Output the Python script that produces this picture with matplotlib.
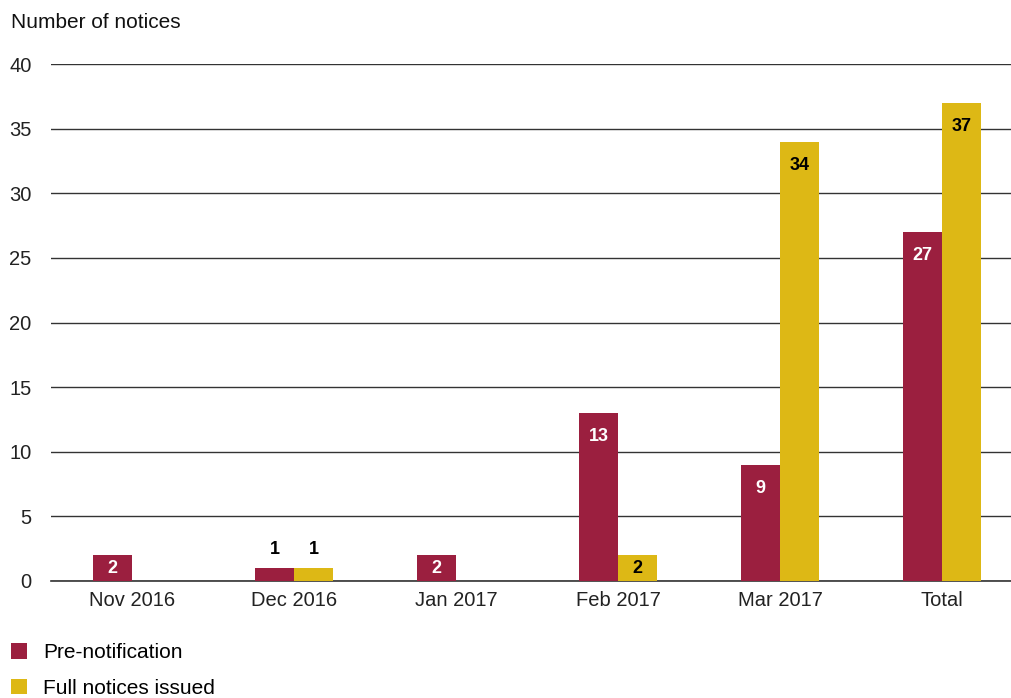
import numpy as np
import matplotlib.pyplot as plt

plt.rcParams['font.family'] = ['Liberation Sans', 'DejaVu Sans']

# data
categories = ['Nov 2016', 'Dec 2016', 'Jan 2017', 'Feb 2017', 'Mar 2017', 'Total']
pre_notification = [2, 1, 2, 13, 9, 27]
full_notices = [0, 1, 0, 2, 34, 37]
yticks = [0, 5, 10, 15, 20, 25, 30, 35, 40]

c_pre = '#9b1f3f'
c_full = '#ddb815'

fig = plt.figure(figsize=(10.11, 6.98), dpi=100)
ax = fig.add_axes([51/1011, 1 - 581/698, 960/1011, (581 - 64)/698])

x = np.arange(len(categories))
w = 0.24
b1 = ax.bar(x - w/2, pre_notification, w, color=c_pre, label='Pre-notification', zorder=3)
b2 = ax.bar(x + w/2, full_notices, w, color=c_full, label='Full notices issued', zorder=3)

# value labels
def etiquetas(barras, valores, cor_dentro):
    for r, v in zip(barras, valores):
        if v == 0:
            continue
        cx = r.get_x() + r.get_width() / 2
        if v < 2:
            ax.text(cx, v + 1.4, str(v), ha='center', va='center',
                    color='black', fontsize=13, fontweight='bold', zorder=4)
        else:
            y = max(v / 2, v - 1.85)
            ax.text(cx, y, str(v), ha='center', va='center',
                    color=cor_dentro, fontsize=13, fontweight='bold', zorder=4)

etiquetas(b1, pre_notification, 'white')
etiquetas(b2, full_notices, 'black')

ax.set_xlim(-0.5, -0.5 + 960/162)
ax.set_ylim(0, 40)
ax.set_yticks(yticks)
ax.set_xticks(x)
ax.set_xticklabels(categories)
ax.yaxis.grid(True, color='#333333', linewidth=1)
ax.axhline(0, color='#333333', linewidth=1.2, zorder=2, clip_on=False)
ax.set_axisbelow(True)
for s in ax.spines.values():
    s.set_visible(False)
ax.tick_params(axis='both', length=0, labelsize=14.5, colors='#222222')
ax.tick_params(axis='y', pad=14)
ax.tick_params(axis='x', pad=7)

fig.text(11/1011, 1 - 23/698, 'Number of notices', fontsize=15, va='center', ha='left', color='#111111')

fig.legend(handles=[b1, b2], loc='upper left', bbox_to_anchor=(11/1011, 1 - 643/698),
           frameon=False, fontsize=15, handlelength=0.77, handleheight=0.77,
           labelspacing=0.8, handletextpad=0.77, borderaxespad=0, borderpad=0)

plt.savefig('out.png', dpi=100)
